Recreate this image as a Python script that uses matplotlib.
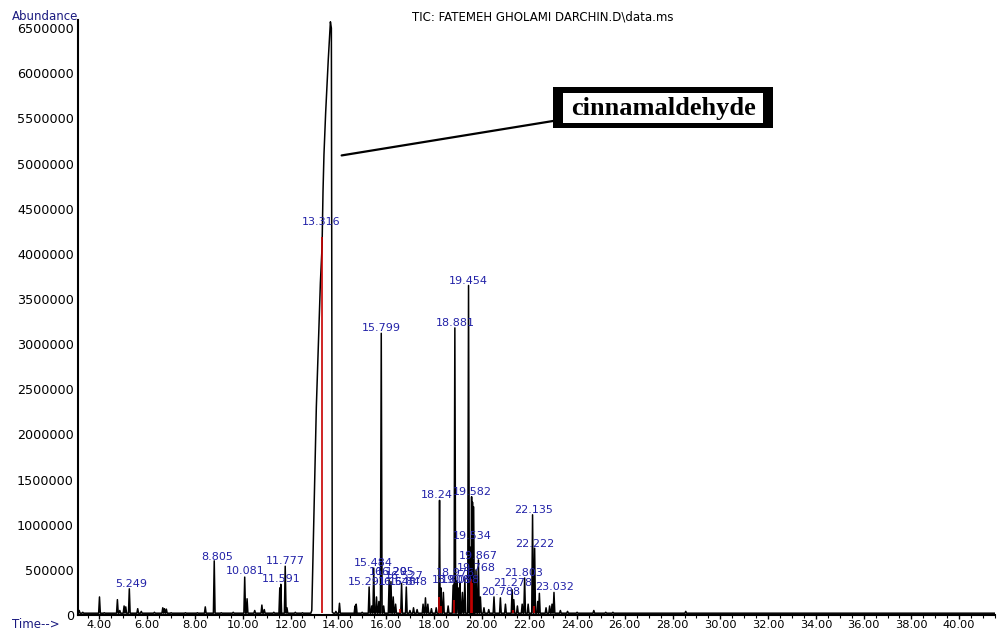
import matplotlib
matplotlib.use("Agg")
import matplotlib.pyplot as plt
from matplotlib.patches import Rectangle
from matplotlib.ticker import MultipleLocator

# peak list (retention time in min, abundance)
peak_rt = [3.15, 3.3, 3.6, 4.0, 4.2, 4.75, 4.85, 5.03, 5.1, 5.249, 5.6, 5.75,
           6.3, 6.65, 6.72, 6.8, 7.0, 7.6, 8.1, 8.43, 8.805, 9.1, 9.6,
           10.081, 10.18, 10.5, 10.8, 10.9, 11.3, 11.55, 11.591, 11.777, 11.85,
           12.2, 12.5, 13.9, 14.05, 14.7, 14.75, 15.0, 15.291, 15.4, 15.484,
           15.6, 15.7, 15.799, 15.9, 16.129, 16.205, 16.3, 16.4, 16.65, 16.848,
           17.0, 17.15, 17.3, 17.55, 17.65, 17.75, 17.9, 18.1, 18.24, 18.3,
           18.4, 18.6, 18.808, 18.881, 18.976, 19.05, 19.098, 19.2, 19.3,
           19.454, 19.534, 19.582, 19.62, 19.66, 19.768, 19.867, 19.95, 20.1,
           20.3, 20.52, 20.788, 21.0, 21.278, 21.35, 21.5, 21.7, 21.803, 21.95,
           22.135, 22.222, 22.35, 22.42, 22.7, 22.85, 22.95, 23.032, 23.3,
           23.6, 24.0, 24.7, 25.2, 25.5, 28.55]
peak_h = [50000, 30000, 20000, 200000, 25000, 170000, 50000, 100000, 90000,
          290000, 70000, 40000, 30000, 80000, 70000, 65000, 25000, 25000,
          25000, 90000, 600000, 25000, 30000, 420000, 180000, 50000, 110000,
          60000, 30000, 300000, 340000, 540000, 80000, 30000, 25000, 40000,
          130000, 100000, 120000, 30000, 310000, 100000, 520000, 200000,
          150000, 3120000, 100000, 390000, 370000, 200000, 120000, 350000,
          310000, 50000, 80000, 60000, 120000, 190000, 120000, 70000, 80000,
          1270000, 300000, 250000, 100000, 330000, 3180000, 380000, 300000,
          350000, 250000, 400000, 3650000, 750000, 1310000, 1250000, 1200000,
          500000, 610000, 200000, 80000, 60000, 200000, 190000, 120000,
          280000, 170000, 100000, 120000, 410000, 120000, 1110000, 740000,
          150000, 240000, 80000, 100000, 120000, 250000, 50000, 40000, 30000,
          50000, 30000, 30000, 40000]

# overloaded main peak (cinnamaldehyde)
main_t = [12.85, 12.89, 13.08, 13.25, 13.32, 13.36, 13.40, 13.47, 13.58,
          13.67, 13.71, 13.75, 13.80]
main_y = [20000, 50000, 2300000, 3680000, 4080000, 4690000, 5100000,
          5560000, 6150000, 6570000, 6500000, 30000, 20000]

# red integration marks
red_rt = [13.33, 16.6, 18.22, 18.3, 18.85, 19.55, 19.6, 21.3, 22.2]
red_h = [4190000, 70000, 200000, 100000, 170000, 400000, 350000, 50000, 100000]

# peak labels: text, position (min), height
label_text = ["5.249", "8.805", "10.081", "11.591", "11.777", "13.316",
              "15.799", "15.291", "15.484", "16.129", "16.205", "16.527",
              "16.548", "16.848", "18.24", "18.881", "19.454", "19.582",
              "19.534", "19.867", "19.768", "18.976", "18.808", "19.098",
              "20.788", "21.278", "21.803", "22.135", "22.222", "23.032"]
label_t = [5.33, 8.92, 10.09, 11.59, 11.78, 13.30, 15.81, 15.20, 15.47,
           16.08, 16.40, 16.75, 16.45, 16.95, 18.14, 18.90, 19.44, 19.60,
           19.60, 19.87, 19.77, 18.90, 18.72, 19.10, 20.81, 21.31, 21.77,
           22.19, 22.23, 23.07]
label_y = [343000, 642000, 487000, 400000, 598000, 4352000, 3178000,
           365000, 576000, 480000, 480000, 430000, 365000, 365000, 1330000,
           3234000, 3700000, 1362000, 875000, 653000, 520000, 465000, 390000,
           390000, 255000, 354000, 465000, 1163000, 786000, 310000]

y_ticks = list(range(0, 6500001, 500000))
x_ticks = list(range(4, 41, 2))

XMIN, XMAX = 3.1, 41.5
BASE = 20000
W = 0.035

# assemble the trace from the peak list
pts = [(XMIN, BASE), (XMAX, BASE)]
for rt, h in zip(peak_rt, peak_h):
    pts += [(rt - W, BASE), (rt, h), (rt + W, BASE)]
pts += list(zip(main_t, main_y))
pts.sort()
tr_t = [p[0] for p in pts]
tr_y = [p[1] for p in pts]

fig = plt.figure(figsize=(9.98, 6.31), dpi=100)
ax = fig.add_axes([78 / 998, 1 - 615 / 631, 917 / 998, 595 / 631])

ax.plot(tr_t, tr_y, color="black", lw=1.1)
ax.vlines(red_rt, BASE, red_h, color="#c80000", lw=1.2)

blue = "#2222a8"
for txt, t, y in zip(label_text, label_t, label_y):
    ax.text(t, y, txt, color=blue, fontsize=8, ha="center", va="center")

ax.set_xlim(XMIN, XMAX)
ax.set_ylim(0, 6590000)
ax.set_xticks(x_ticks)
ax.set_xticklabels([f"{v:.2f}" for v in x_ticks])
ax.xaxis.set_minor_locator(MultipleLocator(0.5))
ax.set_yticks(y_ticks)
ax.set_yticklabels([str(v) for v in y_ticks])
ax.tick_params(axis="x", which="major", length=3, width=1, labelsize=8.2, pad=0.5)
ax.tick_params(axis="x", which="minor", length=2, width=0.8)
ax.tick_params(axis="y", length=0, labelsize=9.2, pad=3)
for s in ("top", "right"):
    ax.spines[s].set_visible(False)
for s in ("left", "bottom"):
    ax.spines[s].set_linewidth(1.5)

fig.text(12 / 998, 1 - 16 / 631, "Abundance", color="#1a1a80", fontsize=8.5,
         ha="left", va="center")
fig.text(12 / 998, 1 - 625 / 631, "Time-->", color="#1a1a80", fontsize=8.5,
         ha="left", va="center")
fig.text(543 / 998, 1 - 17 / 631, "TIC: FATEMEH GHOLAMI DARCHIN.D\\data.ms",
         color="black", fontsize=8.5, ha="center", va="center")

# cinnamaldehyde callout
ax.annotate("", xy=(14.14, 5090000), xycoords="data",
            xytext=(553 / 998, 1 - 121 / 631), textcoords="figure fraction",
            arrowprops=dict(arrowstyle="-", color="black", lw=1.6,
                            shrinkA=0, shrinkB=0))
fig.patches.append(Rectangle((553 / 998, 1 - 128 / 631), 220 / 998, 41 / 631,
                             transform=fig.transFigure, fc="black", ec="none"))
fig.patches.append(Rectangle((563 / 998, 1 - 123 / 631), 200 / 998, 30 / 631,
                             transform=fig.transFigure, fc="white", ec="none"))
fig.text(663 / 998, 1 - 108 / 631, "cinnamaldehyde", family="Liberation Serif",
         fontweight="bold", fontsize=19, ha="center", va="center", color="black")

fig.savefig("out.png", dpi=100)
